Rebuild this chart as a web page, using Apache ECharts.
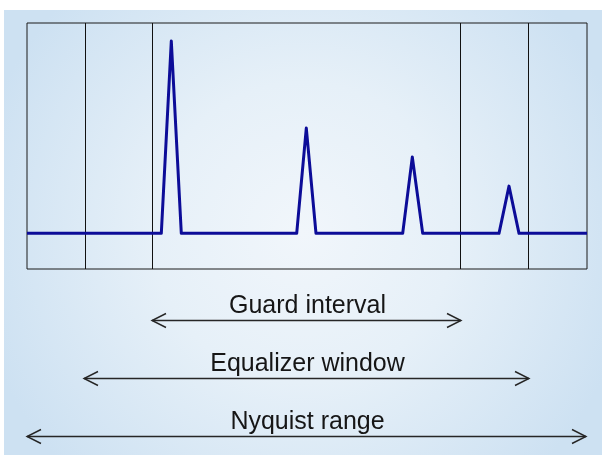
<!DOCTYPE html>
<html>
<head>
<meta charset="utf-8">
<script src="https://cdn.jsdelivr.net/npm/echarts@6/dist/echarts.min.js"></script>
<style>html,body{margin:0;padding:0;background:#fff}#c{width:602px;height:455px}</style>
</head>
<body>
<div id="c"></div>
<script>
// Impulse response (x in sample units across the window, y in relative amplitude)
var echoX = [0, 134.3, 144.3, 154.3, 269.7, 279.3, 289, 375.7, 385.3, 395.7, 472, 482, 492, 560];
var echoY = [14.5, 14.5, 92.7, 14.5, 14.5, 57.3, 14.5, 14.5, 45.5, 14.5, 14.5, 33.7, 14.5, 14.5];
// Vertical window boundaries
var boundaries = [58.5, 125, 433, 501];
// Range annotations
var rangeLabels = ["Guard interval", "Equalizer window", "Nyquist range"];
var rangeStart = [125, 57, 0];
var rangeEnd = [434, 502, 559];

var lineData = echoX.map(function (x, i) { return [x, echoY[i]]; });
var rangeData = rangeLabels.map(function (n, i) { return [rangeStart[i], rangeEnd[i], i]; });

var chart = echarts.init(document.getElementById('c'), null, {renderer: 'canvas'});
var option = {
  animation: false,
  backgroundColor: '#ffffff',
  graphic: [{
    type: 'rect', z: -10, silent: true,
    shape: {x: 4, y: 10, width: 598, height: 445},
    style: {
      fill: new echarts.graphic.RadialGradient(0.5, 0.5, 0.75, [
        {offset: 0, color: '#f1f6fb'},
        {offset: 0.45, color: '#e6f0f8'},
        {offset: 1, color: '#cde1f2'}
      ])
    }
  }],
  grid: [
    {left: 27, top: 23, width: 560, height: 246, show: true, borderColor: '#1a1a1a', borderWidth: 1, backgroundColor: 'transparent'},
    {left: 27, top: 320, width: 560, height: 115.5, show: false}
  ],
  xAxis: [
    {type: 'value', gridIndex: 0, min: 0, max: 560, show: false},
    {type: 'value', gridIndex: 1, min: 0, max: 560, show: false}
  ],
  yAxis: [
    {type: 'value', gridIndex: 0, min: 0, max: 100, show: false},
    {type: 'value', gridIndex: 1, min: 0, max: 2, inverse: true, show: false}
  ],
  series: [
    {
      type: 'line', xAxisIndex: 0, yAxisIndex: 0, data: lineData,
      showSymbol: false, symbol: 'none',
      lineStyle: {color: '#0c0c98', width: 3, join: 'round'},
      z: 5,
      markLine: {
        silent: true, symbol: ['none', 'none'], label: {show: false},
        lineStyle: {type: 'solid', color: '#111', width: 1},
        data: boundaries.map(function (b) { return {xAxis: b}; })
      }
    },
    {
      type: 'custom', xAxisIndex: 1, yAxisIndex: 1, data: rangeData,
      encode: {x: [0, 1], y: 2},
      renderItem: function (params, api) {
        var p1 = api.coord([api.value(0), api.value(2)]);
        var p2 = api.coord([api.value(1), api.value(2)]);
        var y = Math.round(p1[1]) + 0.5;
        var L = 14, H = 7;
        var st = {stroke: '#262626', lineWidth: 1.4, fill: null};
        return {
          type: 'group',
          children: [
            {type: 'line', shape: {x1: p1[0], y1: y, x2: p2[0], y2: y}, style: st},
            {type: 'polyline', shape: {points: [[p1[0] + L, y - H], [p1[0], y], [p1[0] + L, y + H]]}, style: st},
            {type: 'polyline', shape: {points: [[p2[0] - L, y - H], [p2[0], y], [p2[0] - L, y + H]]}, style: st},
            {type: 'text', style: {
              text: rangeLabels[params.dataIndex],
              x: (p1[0] + p2[0]) / 2 + 1, y: y - 14,
              align: 'center', verticalAlign: 'middle',
              font: '25px "Liberation Sans", Arial, sans-serif',
              fill: '#161616'
            }}
          ]
        };
      }
    }
  ]
};
chart.setOption(option);
</script>
</body>
</html>
